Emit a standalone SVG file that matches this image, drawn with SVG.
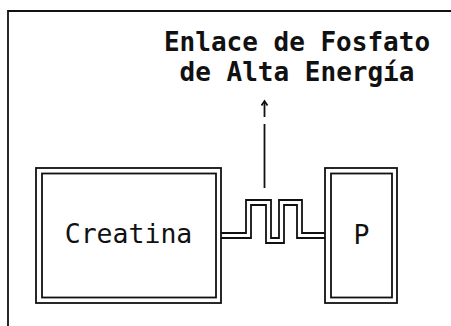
<svg xmlns="http://www.w3.org/2000/svg" width="451" height="326" viewBox="0 0 451 326">
<style>
.ln{fill:none;stroke:#111;stroke-width:1.8;stroke-linejoin:miter}
.lbl{font-family:"DejaVu Sans Mono","Liberation Mono",monospace;fill:#111}
.title{font-family:"DejaVu Sans Mono","Liberation Mono",monospace;font-weight:bold;fill:#111;font-size:26px}
</style>
<rect width="451" height="326" fill="#fff"/>
<g id="frame">
<path class="ln" d="M8,326 V11 H451" stroke-width="2"/>
</g>
<g id="label">
<text class="title" x="297" y="51" text-anchor="middle">Enlace de Fosfato</text>
<text class="title" x="297" y="81" text-anchor="middle">de Alta Energía</text>
</g>
<g id="creatina">
<rect class="ln" x="36" y="168" width="185" height="135"/>
<rect class="ln" x="42" y="173.5" width="174" height="124"/>
<text class="lbl" x="128.5" y="243" font-size="26.5" text-anchor="middle">Creatina</text>
</g>
<g id="fosfato">
<rect class="ln" x="325" y="168" width="72" height="135"/>
<rect class="ln" x="331" y="173.5" width="61" height="124"/>
<text class="lbl" x="361.5" y="244" font-size="26.5" text-anchor="middle">P</text>
</g>
<g id="connectors">
<path class="ln" d="M221,233 H246 V200 H271 V238 H279 V200 H302 V233 H325"/>
<path class="ln" d="M221,238 H251 V205 H266 V243 H284 V205 H297 V238 H325"/>
<path class="ln" d="M264.5,188 V124" stroke-width="1.5"/>
<path class="ln" d="M264.5,117 V102" stroke-width="1.5"/>
<path class="ln" d="M261.5,105.5 L264.5,101 L267.5,105.5" stroke-width="1.5"/>
</g>
</svg>
